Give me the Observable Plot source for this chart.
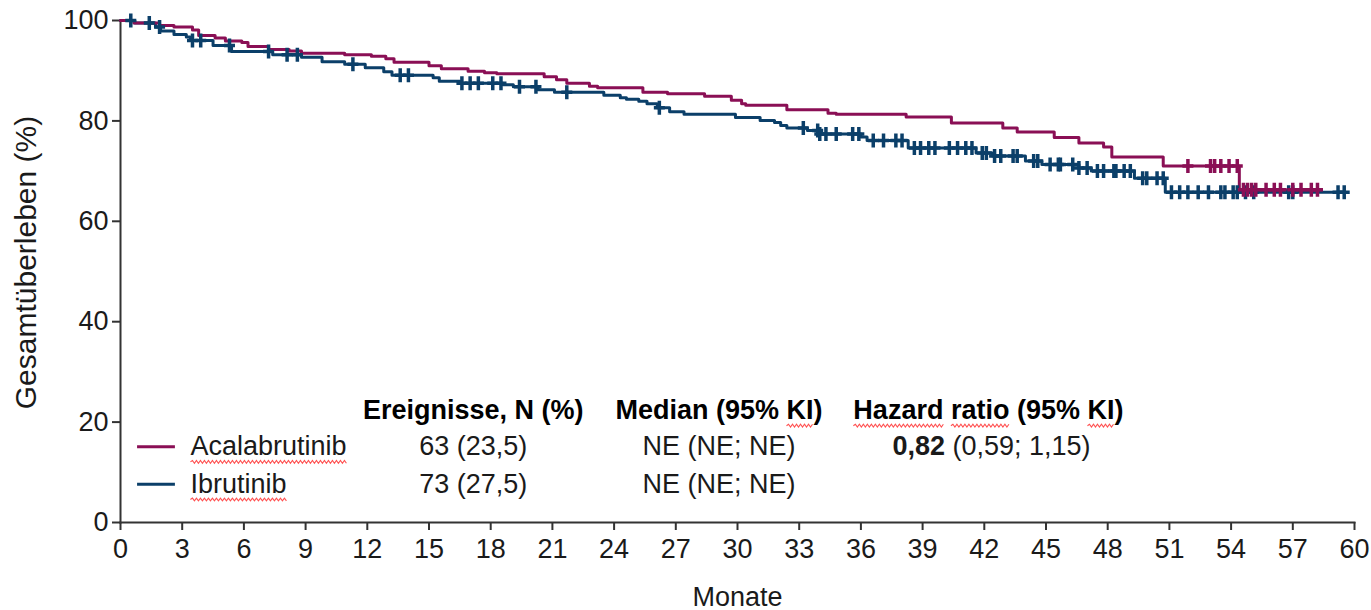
<!DOCTYPE html>
<html>
<head>
<meta charset="utf-8">
<script src="https://cdn.jsdelivr.net/npm/d3@7"></script>
<script src="https://cdn.jsdelivr.net/npm/@observablehq/plot@0.6"></script>
<style>
  body { margin: 0; background: #fff; }
  #chart svg { font-family: "Liberation Sans", Arial, sans-serif; }
</style>
</head>
<body>
<div id="chart"></div>
<script>
// Kaplan–Meier overall survival, Acalabrutinib vs. Ibrutinib
// Event times (months) and survival (%) right after each step
const acalaTimes = [0, 0.65, 1.9, 2.6, 3.5, 3.8, 4.6, 5.1, 5.9, 6.2, 7.2, 8.2, 8.8, 10.9, 12.2, 12.9, 13.3, 15.0, 15.6, 16.9, 17.7, 18.3, 20.6, 21.2, 21.7, 22.8, 23.2, 25.4, 26.6, 28.4, 29.7, 30.2, 30.4, 32.4, 34.4, 34.8, 38.2, 40.4, 42.9, 43.6, 45.4, 46.6, 47.8, 48.2, 50.7, 54.4];
const acalaSurv  = [100, 99.5, 99.0, 98.7, 98.1, 97.0, 96.5, 95.9, 95.6, 94.8, 94.2, 93.9, 93.5, 93.2, 92.9, 92.4, 91.7, 91.0, 90.4, 89.9, 89.6, 89.4, 88.8, 88.2, 87.5, 86.9, 86.6, 85.7, 85.4, 84.9, 84.1, 83.4, 83.1, 82.2, 81.5, 81.3, 80.8, 79.6, 78.6, 77.8, 76.7, 75.6, 74.8, 72.8, 71.0, 66.3];
const acalaEnd = 58.4;
const acalaCensored = [51.9, 53.0, 53.2, 53.5, 53.9, 54.3, 54.6, 54.8, 55.0, 55.2, 55.7, 56.1, 56.4, 57.0, 57.4, 57.9, 58.2];

const ibruTimes = [0, 0.7, 1.7, 1.95, 2.6, 3.2, 3.4, 4.5, 5.4, 7.4, 8.8, 9.8, 10.9, 11.9, 12.8, 13.2, 15.2, 15.5, 16.5, 18.6, 19.1, 20.3, 21.1, 23.5, 24.3, 24.6, 25.2, 25.6, 26.1, 26.7, 27.4, 29.9, 31.1, 31.8, 32.1, 32.4, 33.4, 34.0, 36.0, 36.3, 38.3, 41.6, 42.4, 44.0, 44.8, 46.6, 47.2, 49.3, 50.8];
const ibruSurv  = [100, 99.5, 98.7, 97.9, 97.2, 96.7, 96.0, 95.0, 93.8, 93.2, 92.7, 91.8, 91.3, 90.6, 89.8, 89.1, 88.6, 87.9, 87.5, 87.2, 86.8, 86.2, 85.7, 85.1, 84.6, 84.3, 83.9, 83.4, 82.6, 81.8, 81.3, 80.7, 80.1, 79.7, 79.1, 78.6, 78.1, 77.4, 76.8, 76.1, 74.6, 73.6, 73.0, 72.0, 71.3, 70.6, 70.0, 68.6, 65.8];
const ibruEnd = 59.5;
const ibruCensored = [0.5, 1.4, 1.9, 3.5, 3.9, 5.3, 7.2, 8.1, 8.6, 11.3, 13.6, 14.0, 16.6, 17.0, 17.4, 18.1, 18.5, 19.4, 20.2, 21.7, 26.2, 33.2, 33.9, 34.0, 34.3, 34.8, 35.6, 35.9, 36.6, 37.1, 37.7, 38.0, 38.6, 38.9, 39.3, 39.6, 40.3, 40.7, 41.1, 41.4, 41.9, 42.1, 42.5, 42.8, 43.4, 43.6, 44.4, 44.6, 45.2, 45.6, 45.7, 46.3, 46.6, 47.0, 47.5, 47.8, 48.3, 48.4, 48.8, 49.1, 49.7, 49.9, 50.4, 50.7, 51.1, 51.5, 51.9, 52.4, 52.9, 53.5, 53.7, 54.1, 54.3, 54.7, 55.1, 56.8, 57.0, 59.2, 59.5];

// Axis ticks
const xTicks = [0, 3, 6, 9, 12, 15, 18, 21, 24, 27, 30, 33, 36, 39, 42, 45, 48, 51, 54, 57, 60];
const yTicks = [0, 20, 40, 60, 80, 100];

// Summary table
const arms = ["Acalabrutinib", "Ibrutinib"];
const tableHeader = ["Ereignisse, N (%)", "Median (95% KI)", "Hazard ratio (95% KI)"];
const events = ["63 (23,5)", "73 (27,5)"];
const medians = ["NE (NE; NE)", "NE (NE; NE)"];
const hazardRatio = "0,82";
const hazardCI = "(0,59; 1,15)";

const colors = {Acalabrutinib: "#8a0f55", Ibrutinib: "#0b3f69"};
const ink = "#1a1a1a";

function curve(arm, times, surv, end) {
  const pts = times.map((t, i) => ({arm, t, s: surv[i]}));
  pts.push({arm, t: end, s: surv[surv.length - 1]});
  return pts;
}
function survivalAt(times, surv, t) {
  let s = surv[0];
  for (let i = 0; i < times.length; i++) if (times[i] <= t) s = surv[i];
  return s;
}
const curves = [
  ...curve("Ibrutinib", ibruTimes, ibruSurv, ibruEnd),
  ...curve("Acalabrutinib", acalaTimes, acalaSurv, acalaEnd)
];
const censorIbru = ibruCensored.map(t => ({arm: "Ibrutinib", t, s: survivalAt(ibruTimes, ibruSurv, t)}));
const censorAcala = acalaCensored.map(t => ({arm: "Acalabrutinib", t, s: survivalAt(acalaTimes, acalaSurv, t)}));

// Censoring tick: tall narrow plus
const censorSymbol = {
  draw(ctx) {
    ctx.moveTo(0, -7); ctx.lineTo(0, 7);
    ctx.moveTo(-5.5, 0); ctx.lineTo(5.5, 0);
  }
};

// Table layout (in chart units: months / percent)
const colX = [17.15, 29.1, 42.2];
const rowY = {header: 22.3, rows: [15.1, 7.6]};
const swatch = {x1: 0.83, x2: 2.67};
const nameX = 3.4;

const tableRows = arms.map((arm, i) => ({arm, y: rowY.rows[i], events: events[i], median: medians[i]}));

const chart = Plot.plot({
  width: 1371,
  height: 610,
  marginLeft: 120,
  marginRight: 17,
  marginTop: 20,
  marginBottom: 88,
  style: {fontSize: "27px", fontFamily: "Liberation Sans, Arial, sans-serif", color: ink},
  x: {domain: [0, 60]},
  y: {domain: [0, 100]},
  marks: [
    Plot.axisX({ticks: xTicks, tickSize: 8, tickPadding: 8, strokeWidth: 2, stroke: "#333",
      label: "Monate", labelAnchor: "center", labelArrow: "none", labelOffset: 83}),
    Plot.axisY({ticks: yTicks, tickSize: 8, tickPadding: 4, strokeWidth: 2, stroke: "#333",
      label: "Gesamtüberleben (%)", labelAnchor: "center", labelArrow: "none", labelOffset: 106}),
    Plot.frame({anchor: "left", stroke: "#333", strokeWidth: 2}),
    Plot.frame({anchor: "bottom", stroke: "#333", strokeWidth: 2}),
    Plot.line(curves, {x: "t", y: "s", z: "arm", stroke: d => colors[d.arm], curve: "step-after", strokeWidth: 3}),
    Plot.dot(censorIbru, {x: "t", y: "s", symbol: censorSymbol, fill: "none", stroke: colors.Ibrutinib, strokeWidth: 3.5}),
    Plot.dot(censorAcala, {x: "t", y: "s", symbol: censorSymbol, fill: "none", stroke: colors.Acalabrutinib, strokeWidth: 3.5}),
    // table header
    Plot.text(tableHeader, {x: (d, i) => colX[i], y: rowY.header, text: d => d, fontWeight: "bold", fill: "#000"}),
    // legend swatches and arm names
    Plot.ruleY(tableRows, {y: "y", x1: swatch.x1, x2: swatch.x2, stroke: d => colors[d.arm], strokeWidth: 3}),
    Plot.text(tableRows, {x: nameX, y: "y", text: "arm", textAnchor: "start", fill: ink}),
    Plot.text(tableRows, {x: colX[0], y: "y", text: "events", fill: ink}),
    Plot.text(tableRows, {x: colX[1], y: "y", text: "median", fill: ink}),
    Plot.text([`${hazardRatio} ${hazardCI}`], {x: colX[2] + 0.15, y: rowY.rows[0], text: d => d, fill: ink})
  ]
});

// Mixed styling inside table cells (bold estimate, spell-check marks)
const svg = d3.select(chart);
svg.selectAll("text").each(function() {
  const el = d3.select(this);
  const txt = this.textContent;
  if (txt === `${hazardRatio} ${hazardCI}`) {
    el.text(null);
    el.append("tspan").attr("font-weight", "bold").text(hazardRatio);
    el.append("tspan").text(" " + hazardCI);
  } else if (arms.includes(txt)) {
    el.text(null);
    el.append("tspan").attr("class", "squiggle").text(txt);
  } else if (txt === tableHeader[1]) {
    el.text(null);
    el.append("tspan").text("Median (95% ");
    el.append("tspan").attr("class", "squiggle").text("KI");
    el.append("tspan").text(")");
  } else if (txt === tableHeader[2]) {
    el.text(null);
    el.append("tspan").attr("class", "squiggle").text("Hazard");
    el.append("tspan").text(" ");
    el.append("tspan").attr("class", "squiggle").text("ratio");
    el.append("tspan").text(" (95% ");
    el.append("tspan").attr("class", "squiggle").text("KI");
    el.append("tspan").text(")");
  } else if (txt === "Gesamtüberleben (%)") {
    el.attr("font-size", 30).attr("dx", 9);
  }
});

document.getElementById("chart").append(chart);

// Wavy red underline below each flagged word, drawn in its text's own frame
svg.selectAll("tspan.squiggle").each(function() {
  const textEl = this.parentNode;
  let offset = 0;
  for (const node of textEl.childNodes) {
    if (node === this) break;
    offset += node.textContent.length;
  }
  const n = this.textContent.length;
  const first = textEl.getExtentOfChar(offset);
  const last = textEl.getExtentOfChar(offset + n - 1);
  const x0 = first.x, x1 = last.x + last.width;
  const y = first.y + first.height + 0.5;
  const path = d3.path();
  path.moveTo(x0, y);
  let up = true;
  for (let x = x0 + 2; x <= x1; x += 2) {
    path.lineTo(x, y + (up ? -1.4 : 1.4));
    up = !up;
  }
  const wave = document.createElementNS("http://www.w3.org/2000/svg", "path");
  wave.setAttribute("d", path.toString());
  wave.setAttribute("fill", "none");
  wave.setAttribute("stroke", "#ff5050");
  wave.setAttribute("stroke-width", "1.1");
  const tf = textEl.getAttribute("transform");
  if (tf) wave.setAttribute("transform", tf);
  textEl.parentNode.appendChild(wave);
});
</script>
</body>
</html>
